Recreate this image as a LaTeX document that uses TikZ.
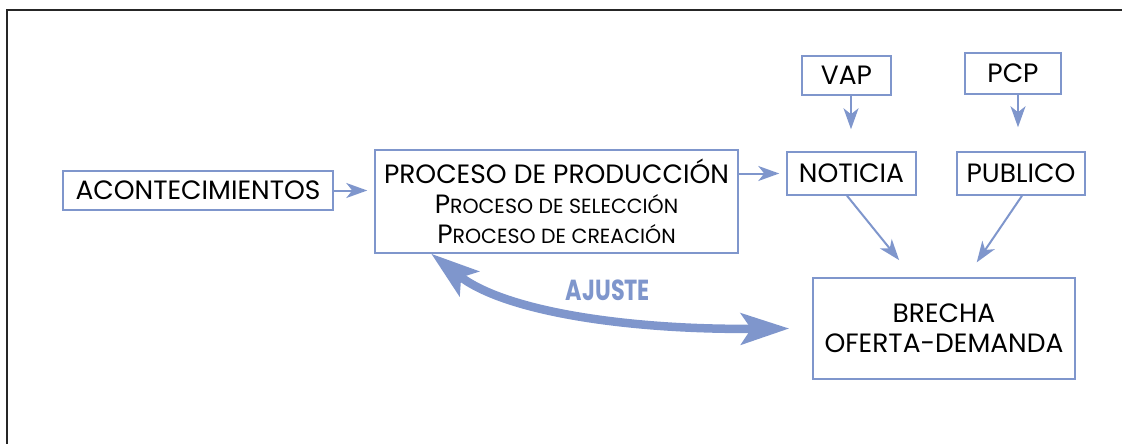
\documentclass[tikz,border=0pt]{standalone}
\usepackage{fontspec}
\setmainfont{Poppins}
\usetikzlibrary{arrows.meta,calc}
\definecolor{bl}{RGB}{127,150,204}
\newcommand\smc[1]{{\fontsize{20.5}{30}\selectfont #1}}
\begin{document}
\begin{tikzpicture}[x=1pt,y=-1pt,
  box/.style={draw=bl,line width=1.5pt,inner sep=0pt,align=center,text=black,
    font=\fontsize{26.5}{30}\selectfont},
  thinarrow/.style={draw=bl,line width=2pt,-{Stealth[length=21pt,width=15pt,inset=6pt]}},
  bigarrow/.style={draw=bl,line width=8.5pt,
    {Stealth[length=48pt,width=31pt,inset=10pt]}-{Stealth[length=48pt,width=31pt,inset=10pt]}}]
\useasboundingbox (0,0) rectangle (1122,444);
\draw[line width=2pt,black!85] (7,444) -- (7,10) -- (1122,10);

\node[box,minimum width=270pt,minimum height=39pt] (acon) at (198,190.5) {ACONTECIMIENTOS};
\node[box,minimum width=363pt,minimum height=103pt] (proc) at (556.5,201.5)
  {PROCESO DE PRODUCCIÓN\\P\smc{ROCESO DE SELECCIÓN}\\P\smc{ROCESO DE CREACIÓN}};
\node[box,minimum width=129pt,minimum height=43pt] (noti) at (851.5,173.5) {NOTICIA};
\node[box,minimum width=128pt,minimum height=43pt] (publ) at (1021,173.5) {PUBLICO};
\node[box,minimum width=89pt,minimum height=39pt] (vap) at (846.5,75.5) {VAP};
\node[box,minimum width=96pt,minimum height=41pt] (pcp) at (1013,73.5) {PCP};
\node[box,minimum width=262pt,minimum height=101pt] (brecha) at (944,328.5)
  {BRECHA\\OFERTA-DEMANDA};

\draw[thinarrow,shorten >=7pt] (acon.east) -- (acon.east -| proc.west);
\draw[thinarrow,shorten >=7pt] (noti.west -| proc.east) -- (noti.west);
\draw[thinarrow,shorten >=22pt] ([xshift=4.5pt]vap.south) -- ([xshift=4.5pt]vap.south |- noti.north);
\draw[thinarrow,shorten >=24pt] ([xshift=5pt]pcp.south) -- ([xshift=5pt]pcp.south |- publ.north);
\draw[thinarrow,shorten >=22pt] ([xshift=-4.5pt]noti.south) -- ([xshift=-31pt]brecha.north);
\draw[thinarrow,shorten >=18pt] ([xshift=1pt]publ.south) -- ([xshift=22.6pt]brecha.north);

\draw[bigarrow] ([xshift=57pt]proc.south west) .. controls (505,312) and (630,330) .. ([xshift=-23pt]brecha.west);
\node[font=\bfseries\fontsize{29}{29}\selectfont,text=bl] (ajuste) at (608,290) {\scalebox{0.77}[1]{AJUSTE}};
\end{tikzpicture}
\end{document}
